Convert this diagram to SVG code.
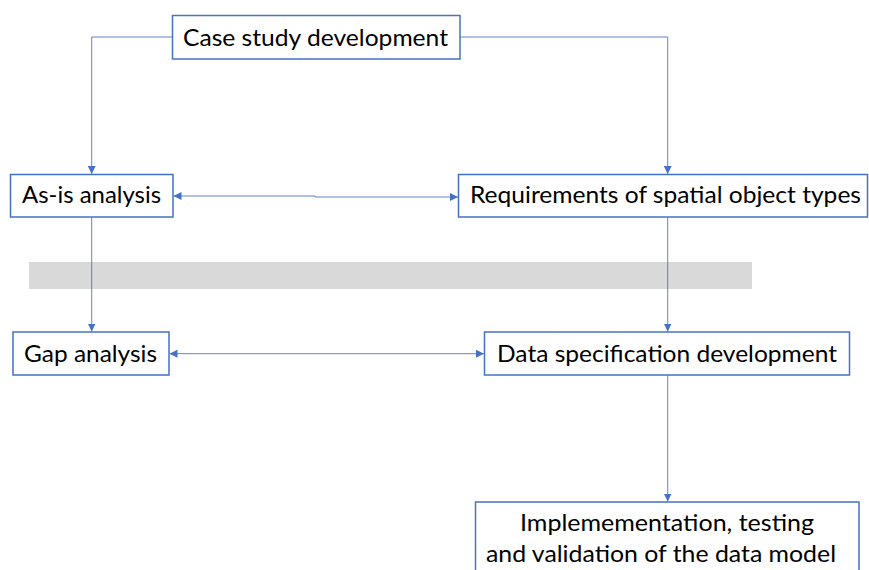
<svg xmlns="http://www.w3.org/2000/svg" width="869" height="570" viewBox="0 0 869 570">
<style>
.box{fill:#fff;stroke:#4472C4;stroke-width:1.5}
.lbl{font-family:Lato,"Open Sans","Liberation Sans",sans-serif;font-size:24px;fill:#000}
.con{fill:none;stroke:#4472C4;stroke-width:1;stroke-opacity:0.85}
</style>
<defs>
<marker id="ah" viewBox="0 0 10 10" refX="10" refY="5" markerWidth="8" markerHeight="8" markerUnits="userSpaceOnUse" orient="auto-start-reverse">
<path d="M0,0 L10,5 L0,10 Z" fill="#4472C4"/>
</marker>
</defs>
<rect id="band" x="29" y="262" width="723" height="27" fill="#d9d9d9"/>
<g id="connectors">
<path class="con" d="M172,37 H91.7 V174" marker-end="url(#ah)"/>
<path class="con" d="M460,37 H667.7 V174" marker-end="url(#ah)"/>
<path class="con" d="M173.5,196 H315 V197 H458" marker-start="url(#ah)" marker-end="url(#ah)"/>
<path class="con" d="M91.7,217 V331.5" marker-end="url(#ah)"/>
<path class="con" d="M667.7,217 V331.5" marker-end="url(#ah)"/>
<path class="con" d="M169.5,353.7 H484" marker-start="url(#ah)" marker-end="url(#ah)"/>
<path class="con" d="M667.7,375.5 V501.5" marker-end="url(#ah)"/>
</g>
<g id="case">
<rect class="box" x="172.5" y="15.5" width="287.5" height="43.5"/>
<text class="lbl" x="183" y="46" textLength="265" lengthAdjust="spacingAndGlyphs">Case study development</text>
</g>
<g id="asis">
<rect class="box" x="10.5" y="174.5" width="162.5" height="42.5"/>
<text class="lbl" x="22" y="203" textLength="139" lengthAdjust="spacingAndGlyphs">As-is analysis</text>
</g>
<g id="req">
<rect class="box" x="458.5" y="174.5" width="409" height="42.5"/>
<text class="lbl" x="470" y="203" textLength="391" lengthAdjust="spacingAndGlyphs">Requirements of spatial object types</text>
</g>
<g id="gap">
<rect class="box" x="13" y="332" width="156" height="43"/>
<text class="lbl" x="24" y="361.7" textLength="133" lengthAdjust="spacingAndGlyphs">Gap analysis</text>
</g>
<g id="dataspec">
<rect class="box" x="484.5" y="332" width="365" height="43"/>
<text class="lbl" x="497" y="361.7" textLength="340" lengthAdjust="spacingAndGlyphs">Data specification development</text>
</g>
<g id="impl">
<rect class="box" x="475.5" y="502" width="383.5" height="80"/>
<text class="lbl" x="520" y="531" textLength="294" lengthAdjust="spacingAndGlyphs">Implemementation, testing</text>
<text class="lbl" x="486" y="561.7" textLength="350" lengthAdjust="spacingAndGlyphs">and validation of the data model</text>
</g>
</svg>
